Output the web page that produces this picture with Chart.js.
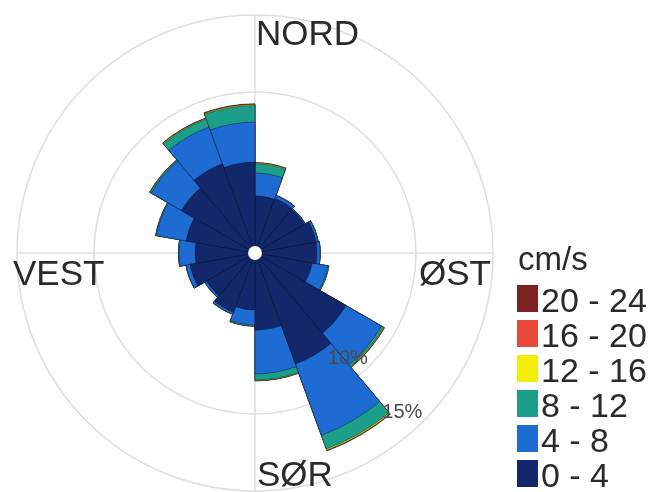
<!DOCTYPE html>
<html>
<head>
<meta charset="utf-8">
<title>Strømrose</title>
<script src="https://cdn.jsdelivr.net/npm/chart.js@4/dist/chart.umd.min.js"></script>
<style>
  html, body { margin: 0; padding: 0; background: #ffffff; }
  #wrap {
    position: relative; width: 667px; height: 492px; overflow: hidden;
    font-family: "Liberation Sans", Arial, Helvetica, sans-serif; color: #2a2a2a;
  }
  #rose { position: absolute; left: 0; top: 0; }
  .dir { position: absolute; font-size: 35px; line-height: 35px; white-space: nowrap; }
  .leg-title { position: absolute; font-size: 33px; line-height: 33px; white-space: nowrap; }
  .leg-box { position: absolute; width: 21px; height: 27px; }
  .leg-text { position: absolute; font-size: 34px; line-height: 34px; white-space: nowrap; }
</style>
</head>
<body>
<div id="wrap">
  <canvas id="rose" width="667" height="492"></canvas>
  <div class="dir" style="left:256px;top:15px;">NORD</div>
  <div class="dir" style="left:13px;top:255px;">VEST</div>
  <div class="dir" style="left:419px;top:255px;">ØST</div>
  <div class="dir" style="left:257px;top:456px;">SØR</div>
  <div id="legend"></div>
</div>
<script>
// Direction sectors, 20° wide, clockwise from north (label = sector centre)
const DIRECTIONS = ['10°', '30°', '50°', '70°', '90°', '110°', '130°', '150°', '170°',
                    '190°', '210°', '230°', '250°', '270°', '290°', '310°', '330°', '350°'];

// Frequency (%) of each current-speed class per sector
const SPEED_0_4   = [3.25, 3.31, 3.25, 3.57, 3.57, 3.31, 6.36, 7.21, 4.55, 3.25, 3.64, 3.18, 3.83, 3.44, 4.09, 5.06, 5.71, 5.45];
const SPEED_4_8   = [1.49, 0.20, 0.06, 0.13, 0.20, 1.04, 2.67, 4.93, 2.85, 0.97, 0.13, 0.13, 0.26, 1.04, 1.95, 2.28, 2.54, 2.60];
const SPEED_8_12  = [0.60, 0.02, 0.01, 0.02, 0.02, 0.07, 0.15, 0.95, 0.40, 0.07, 0.01, 0.01, 0.01, 0.04, 0.05, 0.08, 0.55, 1.08];
const SPEED_12_16 = [0.05, 0.00, 0.00, 0.00, 0.00, 0.00, 0.05, 0.08, 0.04, 0.01, 0.00, 0.00, 0.00, 0.00, 0.01, 0.02, 0.05, 0.06];
const SPEED_16_20 = [0.02, 0.00, 0.00, 0.00, 0.00, 0.00, 0.02, 0.03, 0.01, 0.00, 0.00, 0.00, 0.00, 0.00, 0.00, 0.01, 0.02, 0.03];
const SPEED_20_24 = [0.01, 0.00, 0.00, 0.00, 0.00, 0.00, 0.01, 0.02, 0.01, 0.00, 0.00, 0.00, 0.00, 0.00, 0.00, 0.00, 0.01, 0.02];

const SPEED_CLASSES = ['0 - 4', '4 - 8', '8 - 12', '12 - 16', '16 - 20', '20 - 24'];
const CLASS_COLORS  = ['#13286b', '#1f6bd4', '#1c9f8a', '#f2ee0a', '#e6493a', '#7d2222'];

// Frequency rings and their labels
const RING_VALUES = [10, 15];
const RING_LABELS = ['10%', '15%'];
const AXIS_MIN = -0.45;   // leaves a small empty hub in the middle
const AXIS_MAX = 15;

const classSeries = [SPEED_0_4, SPEED_4_8, SPEED_8_12, SPEED_12_16, SPEED_16_20, SPEED_20_24];

// Stack the classes: each dataset holds the running total up to its class.
// Dataset 0 is painted last, so the slowest class ends up on top.
const stacked = [];
classSeries.forEach((series, c) => {
  stacked.push(series.map((v, i) => +(v + (c > 0 ? stacked[c - 1][i] : 0)).toFixed(3)));
});

const datasets = stacked.map((data, c) => ({
  label: SPEED_CLASSES[c],
  data: data,
  backgroundColor: CLASS_COLORS[c],
  borderColor: 'rgba(8, 14, 34, 0.55)',
  borderWidth: 0.8
}));

// Legend (fastest class on top)
const legend = document.getElementById('legend');
const title = document.createElement('div');
title.className = 'leg-title';
title.style.left = '518px';
title.style.top = '242px';
title.textContent = 'cm/s';
legend.appendChild(title);
SPEED_CLASSES.slice().reverse().forEach((name, k) => {
  const baseline = 312 + 35 * k;
  const box = document.createElement('div');
  box.className = 'leg-box';
  box.style.left = '517px';
  box.style.top = (baseline - 27) + 'px';
  box.style.background = CLASS_COLORS[SPEED_CLASSES.length - 1 - k];
  legend.appendChild(box);
  const txt = document.createElement('div');
  txt.className = 'leg-text';
  txt.style.left = '541px';
  txt.style.top = (baseline - 29) + 'px';
  txt.textContent = name;
  legend.appendChild(txt);
});

const GRID_COLOR = '#dedede';

// Compass cross under the bars, hub and ring labels above them
const roseDecor = {
  id: 'roseDecor',
  beforeDatasetsDraw(chart) {
    const s = chart.scales.r;
    const R = s.getDistanceFromCenterForValue(AXIS_MAX);
    const ctx = chart.ctx;
    ctx.save();
    ctx.strokeStyle = GRID_COLOR;
    ctx.lineWidth = 1.5;
    ctx.beginPath();
    ctx.moveTo(s.xCenter, s.yCenter - R);
    ctx.lineTo(s.xCenter, s.yCenter + R);
    ctx.moveTo(s.xCenter - R, s.yCenter);
    ctx.lineTo(s.xCenter + R, s.yCenter);
    ctx.stroke();
    ctx.restore();
  },
  afterDatasetsDraw(chart) {
    const s = chart.scales.r;
    const ctx = chart.ctx;
    ctx.save();
    ctx.fillStyle = '#ffffff';
    ctx.beginPath();
    ctx.arc(s.xCenter, s.yCenter, s.getDistanceFromCenterForValue(0), 0, Math.PI * 2);
    ctx.fill();
    ctx.font = '20px "Liberation Sans", Arial, sans-serif';
    ctx.fillStyle = '#4a4a4a';
    ctx.textAlign = 'right';
    ctx.textBaseline = 'alphabetic';
    const a = Math.PI / 4; // south-east
    RING_VALUES.forEach((v, i) => {
      const d = s.getDistanceFromCenterForValue(v);
      ctx.fillText(RING_LABELS[i], s.xCenter + d * Math.cos(a) - 1, s.yCenter + d * Math.sin(a) - 3);
    });
    ctx.restore();
  }
};

new Chart(document.getElementById('rose'), {
  type: 'polarArea',
  data: { labels: DIRECTIONS, datasets: datasets },
  options: {
    responsive: false,
    animation: false,
    layout: { padding: { left: 17, right: 174, top: 15, bottom: 1 } },
    plugins: { legend: { display: false }, tooltip: { enabled: false } },
    scales: {
      r: {
        min: AXIS_MIN,
        max: AXIS_MAX,
        startAngle: 0,
        afterBuildTicks(axis) {
          axis.ticks = [{ value: axis.min }].concat(RING_VALUES.map(v => ({ value: v })));
        },
        ticks: { display: false },
        pointLabels: { display: false },
        angleLines: { display: false },
        grid: {
          circular: true,
          lineWidth: 1.5,
          color: (ctx) => (ctx.tick && RING_VALUES.includes(ctx.tick.value)) ? GRID_COLOR : 'rgba(0,0,0,0)'
        }
      }
    }
  },
  plugins: [roseDecor]
});
</script>
</body>
</html>
